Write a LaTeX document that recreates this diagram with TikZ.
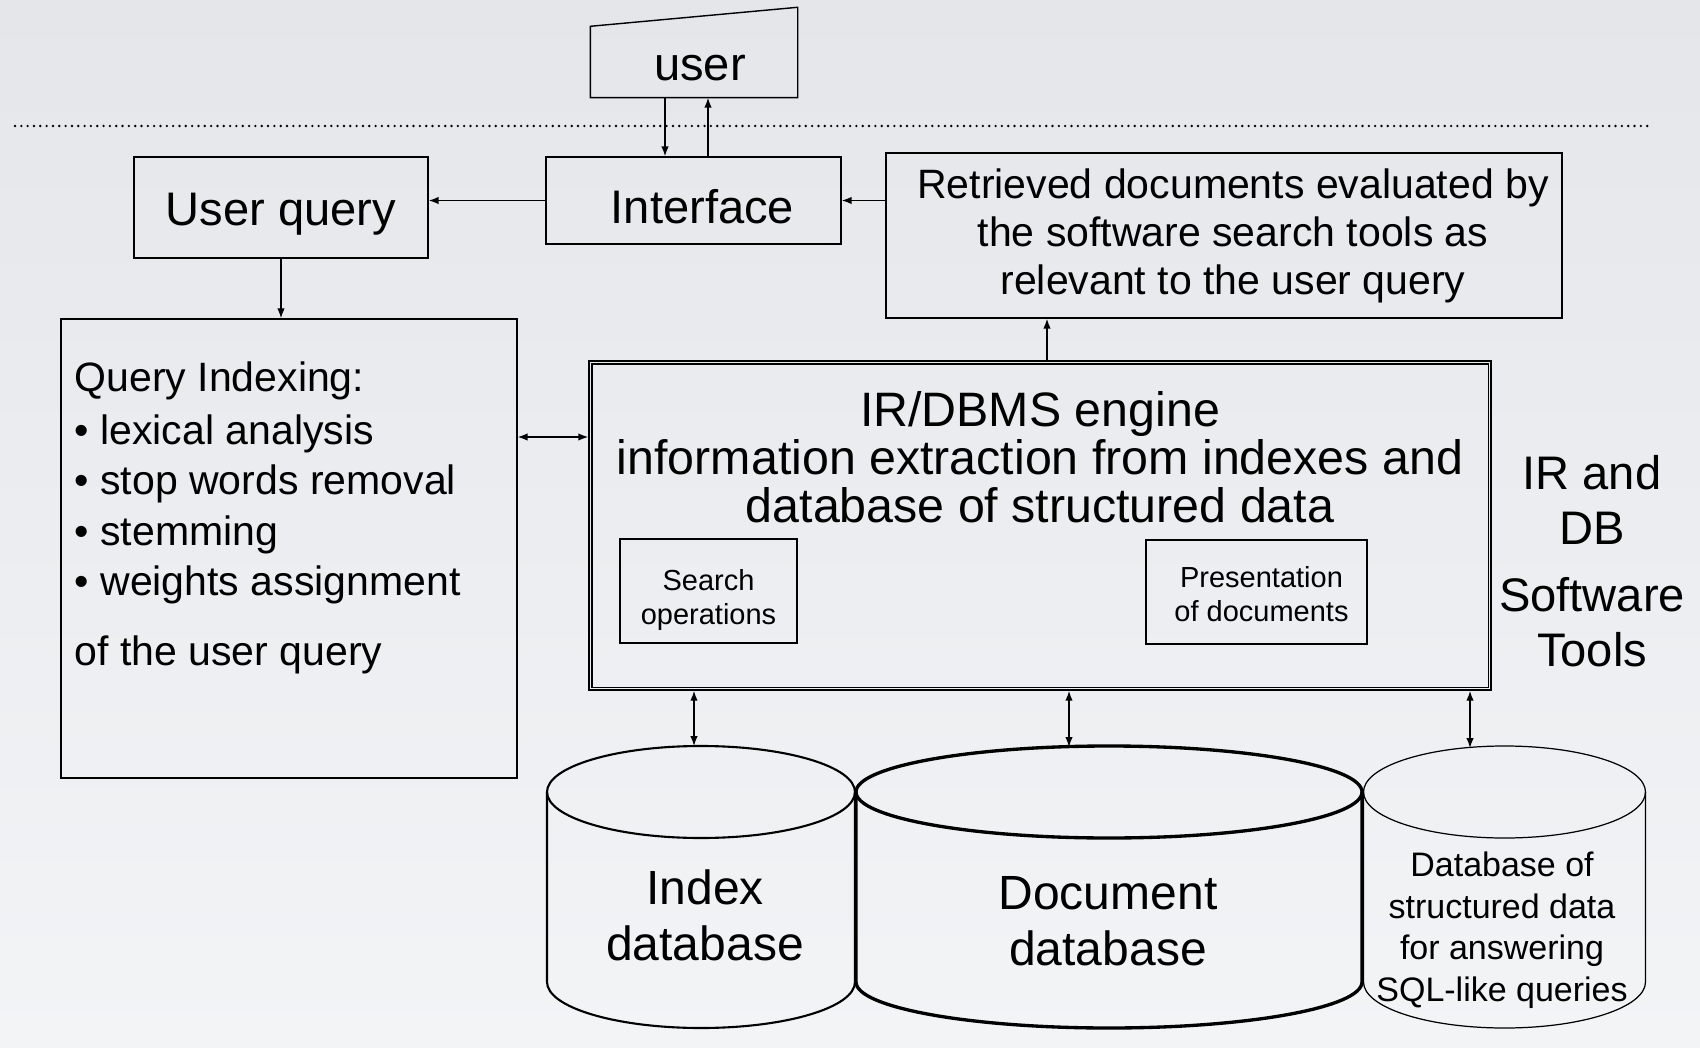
\documentclass[tikz,border=0pt]{standalone}
\usepackage{fontspec}
\setmainfont{Liberation Sans}
\usetikzlibrary{arrows.meta}
\definecolor{bgtop}{RGB}{228,230,234}
\definecolor{bgbot}{RGB}{243,244,246}

\begin{document}
\begin{tikzpicture}[x=1cm, y=-1cm, >={Latex[length=2.8pt,width=2.1pt]},
	box/.style={draw, line width=0.4pt, inner sep=0pt, align=center},
	big/.style={font=\fontsize{13.4pt}{15.65pt}\selectfont},
	small/.style={font=\fontsize{8.25pt}{9.67pt}\selectfont}]
	\shade[top color=bgtop, bottom color=bgbot] (0,0) rectangle (17,10.48);
	\draw[line width=0.75pt, line cap=round, dash pattern=on 0pt off 1.8pt] (0.15,1.26) -- (16.5,1.26);
	% boxes
	\node[inner sep=0pt, minimum width=2.06cm, minimum height=0.70cm, big] (user) at (6.94,0.62) {\hspace*{0.12cm}\rule{0pt}{0.38cm}user};
	\draw[line width=0.4pt] (user.south west) -- (user.north west) -- ([yshift=0.19cm]user.north east) -- (user.south east) -- cycle;
	\node[box, big, minimum width=2.95cm, minimum height=0.87cm] (iface) at (6.935,2.005) {\hspace*{0.18cm}\rule{0pt}{0.47cm}Interface};
	\node[box, big, minimum width=2.94cm, minimum height=1.01cm] (uquery) at (2.81,2.075) {\rule{0pt}{0.46cm}User query};
	\node[box, font=\fontsize{11.67pt}{13.66pt}\selectfont, minimum width=6.76cm, minimum height=1.65cm] (retrieved) at (12.24,2.355) {\hspace*{0.18cm}Retrieved documents evaluated by\\\hspace*{0.18cm}the software search tools as\\\hspace*{0.18cm}relevant to the user query};
	\node[box, minimum width=4.56cm, minimum height=4.59cm] (qindex) at (2.89,5.485) {};
	\node[anchor=north west, inner sep=0pt, align=left, font=\fontsize{11.67pt}{14.3pt}\selectfont] (qtext) at (0.74,3.61) {Query Indexing:\\[0.03cm]• lexical analysis\\• stop words removal\\• stemming\\• weights assignment\\[0.2cm]of the user query};
	\node[box, line width=0.45pt, minimum width=9.02cm, minimum height=3.29cm] (engine) at (10.40,5.255) {};
	\draw[line width=0.45pt] ([xshift=0.035cm,yshift=-0.035cm]engine.north west) rectangle ([xshift=-0.035cm,yshift=0.035cm]engine.south east);
	\node[anchor=north, inner sep=0pt, align=center, font=\fontsize{13.75pt}{13.66pt}\selectfont] (etitle) at (10.40,3.91) {IR/DBMS engine\\information extraction from indexes and\\database of structured data};
	\node[box, small, minimum width=1.77cm, minimum height=1.04cm] (search) at (7.085,5.91) {\rule{0pt}{0.39cm}Search\\operations};
	\node[box, small, minimum width=2.21cm, minimum height=1.04cm] (present) at (12.565,5.92) {\rule{0pt}{0.25cm}\hspace*{0.1cm}Presentation\\\hspace*{0.1cm}of documents};
	\node[anchor=north, inner sep=0pt, align=center, big] (irdb) at (15.92,4.55) {IR and\\DB\\[0.12cm]Software\\Tools};
	% databases
	\foreach \cx/\rx/\lw in {7.01/1.54/0.6pt, 15.045/1.41/0.35pt, 11.09/2.53/0.95pt} {
		\draw[line width=\lw] (\cx-\rx,7.92) -- (\cx-\rx,9.82) arc[start angle=180, end angle=360, x radius=\rx cm, y radius=0.46cm] -- (\cx+\rx,7.92);
		\draw[line width=\lw] (\cx,7.92) ellipse[x radius=\rx cm, y radius=0.46cm];
	}
	\node[align=center, inner sep=0pt, font=\fontsize{13.66pt}{15.9pt}\selectfont] (idxdb) at (7.05,9.15) {Index\\database};
	\node[align=center, inner sep=0pt, font=\fontsize{13.66pt}{15.9pt}\selectfont] (docdb) at (11.08,9.21) {Document\\database};
	\node[align=center, inner sep=0pt, font=\fontsize{9.67pt}{11.8pt}\selectfont] (sqldb) at (15.02,9.30) {Database of\\structured data\\for answering\\SQL-like queries};
	\coordinate (idxtop) at (6.94,7.46);
	\coordinate (doctop) at (10.69,7.47);
	\coordinate (sqltop) at (14.70,7.48);
	% arrows
	\coordinate (udown) at ([xshift=-0.29cm]user.south);
	\coordinate (uup) at ([xshift=0.14cm]user.south);
	\coordinate (qe) at ([yshift=1.115cm]qindex.east);
	\coordinate (en) at ([xshift=0.07cm]engine.north);
	\draw[->] (udown) -- (udown |- iface.north);
	\draw[->] (uup |- iface.north) -- (uup);
	\draw[->] (iface.west) -- (iface.west -| uquery.east);
	\draw[->] (iface.east -| retrieved.west) -- (iface.east);
	\draw[->] (uquery.south) -- (uquery.south |- qindex.north);
	\draw[<->] (qe) -- (qe -| engine.west);
	\draw[->] (en) -- (en |- retrieved.south);
	\draw[<->] (engine.south -| idxtop) -- (idxtop);
	\draw[<->] (engine.south -| doctop) -- (doctop);
	\draw[<->] (engine.south -| sqltop) -- (sqltop);
\end{tikzpicture}
\end{document}
